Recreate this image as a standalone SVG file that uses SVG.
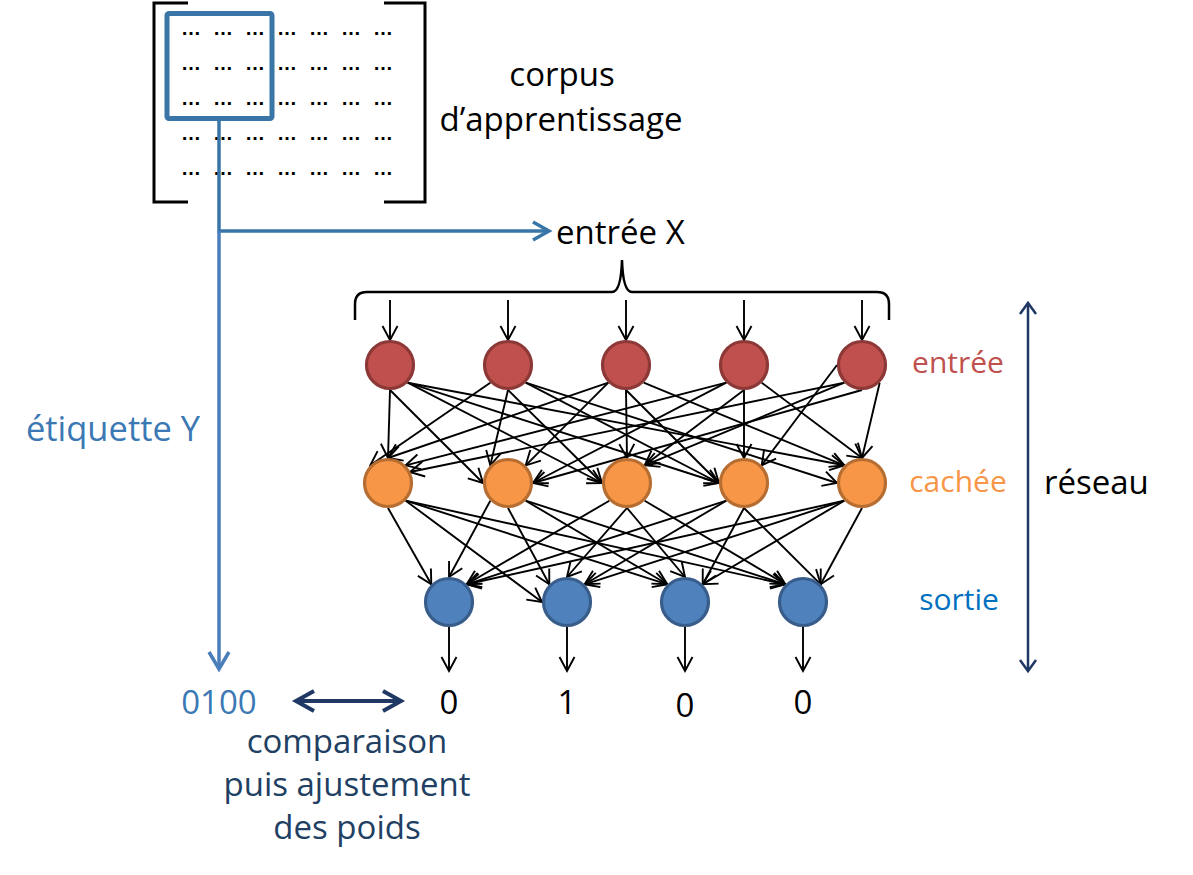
<svg xmlns="http://www.w3.org/2000/svg" width="1193" height="875" viewBox="0 0 1193 875">
<style>
.t{font-family:"Open Sans","Liberation Sans",sans-serif;font-size:33px}
.lay{font-size:30px}
.dots{font-family:"Liberation Sans",sans-serif;font-size:20px;font-weight:bold;fill:#000;text-anchor:middle}
.c{fill:none;stroke:#000;stroke-width:1.9;marker-end:url(#ah)}
.in{fill:#c0504d;stroke:#8c3836;stroke-width:3.2}
.hd{fill:#f79646;stroke:#b66d31;stroke-width:3.2}
.out{fill:#4f81bd;stroke:#385d8a;stroke-width:3.2}
</style>
<defs>
<marker id="ah" viewBox="-17 -10 19 20" refX="0" refY="0" markerWidth="19" markerHeight="20" markerUnits="userSpaceOnUse" orient="auto" overflow="visible"><path d="M-14,-7.5 L0,0 L-14,7.5" fill="none" stroke="#000" stroke-width="1.9"/></marker>
<marker id="bh1" viewBox="-20 -12 22 24" refX="0" refY="0" markerWidth="22" markerHeight="24" markerUnits="userSpaceOnUse" orient="auto" overflow="visible"><path d="M-16,-9 L0,0 L-16,9" fill="none" stroke="#3a75a8" stroke-width="3.5"/></marker>
<marker id="bh2" viewBox="-20 -12 22 24" refX="0" refY="0" markerWidth="22" markerHeight="24" markerUnits="userSpaceOnUse" orient="auto" overflow="visible"><path d="M-17,-10 L0,0 L-17,10" fill="none" stroke="#4a7ebb" stroke-width="3.5"/></marker>
<marker id="nh" viewBox="-22 -13 24 26" refX="0" refY="0" markerWidth="24" markerHeight="26" markerUnits="userSpaceOnUse" orient="auto-start-reverse" overflow="visible"><path d="M-18,-10 L0,0 L-18,10" fill="none" stroke="#1f3864" stroke-width="4"/></marker>
<marker id="nh2" viewBox="-14 -10 16 20" refX="0" refY="0" markerWidth="16" markerHeight="20" markerUnits="userSpaceOnUse" orient="auto-start-reverse" overflow="visible"><path d="M-11,-8 L0,0 L-11,8" fill="none" stroke="#1f3864" stroke-width="2.5"/></marker>
</defs>
<rect width="1193" height="875" fill="#fff"/>

<g id="corpus">
<path d="M188,3 L154,3 L154,202 L188,202" fill="none" stroke="#000" stroke-width="3"/>
<path d="M384,3 L425,3 L425,202 L384,202" fill="none" stroke="#000" stroke-width="3"/>
<g class="dots">
<text x="191" y="35">…</text><text x="223" y="35">…</text><text x="255" y="35">…</text><text x="287" y="35">…</text><text x="319" y="35">…</text><text x="351" y="35">…</text><text x="383" y="35">…</text>
<text x="191" y="70">…</text><text x="223" y="70">…</text><text x="255" y="70">…</text><text x="287" y="70">…</text><text x="319" y="70">…</text><text x="351" y="70">…</text><text x="383" y="70">…</text>
<text x="191" y="105">…</text><text x="223" y="105">…</text><text x="255" y="105">…</text><text x="287" y="105">…</text><text x="319" y="105">…</text><text x="351" y="105">…</text><text x="383" y="105">…</text>
<text x="191" y="140">…</text><text x="223" y="140">…</text><text x="255" y="140">…</text><text x="287" y="140">…</text><text x="319" y="140">…</text><text x="351" y="140">…</text><text x="383" y="140">…</text>
<text x="191" y="175">…</text><text x="223" y="175">…</text><text x="255" y="175">…</text><text x="287" y="175">…</text><text x="319" y="175">…</text><text x="351" y="175">…</text><text x="383" y="175">…</text>
</g>
<rect x="167" y="13.5" width="105" height="105" rx="2" fill="none" stroke="#3a75a8" stroke-width="5"/>
<text class="t" x="562" y="86" text-anchor="middle">corpus</text>
<text class="t" x="561" y="131" text-anchor="middle">d’apprentissage</text>
</g>

<g id="labels">
<text class="t" x="556" y="244">entrée X</text>
<text class="t" x="113" y="441" text-anchor="middle" fill="#3b78b4" style="font-size:34.5px">étiquette Y</text>
<text class="t lay" x="958" y="373" text-anchor="middle" fill="#c0504d">entrée</text>
<text class="t lay" x="958" y="492" text-anchor="middle" fill="#f79646">cachée</text>
<text class="t lay" x="959" y="610" text-anchor="middle" fill="#0070c0">sortie</text>
<text class="t" x="1044" y="494">réseau</text>
<text class="t" x="219" y="714" text-anchor="middle" fill="#3b78b4">0100</text>
<text class="t" x="449" y="714" text-anchor="middle">0</text>
<text class="t" x="567" y="714" text-anchor="middle">1</text>
<text class="t" x="685" y="717" text-anchor="middle">0</text>
<text class="t" x="803" y="714" text-anchor="middle">0</text>
<g fill="#213f63" text-anchor="middle">
<text class="t" x="347" y="753">comparaison</text>
<text class="t" x="347" y="796">puis ajustement</text>
<text class="t" x="347" y="839">des poids</text>
</g>
</g>

<g id="brace">
<path d="M355,320 L355,304 Q355,292 367,292 L612,292 Q621,292 622,260 Q623,292 632,292 L877,292 Q889,292 889,304 L889,320" fill="none" stroke="#000" stroke-width="2.5"/>
</g>

<g id="connectors">
<path d="M219,119 L219,231 L549,231" fill="none" stroke="#3a75a8" stroke-width="3.5" marker-end="url(#bh1)"/>
<path d="M219,231 L219,669" fill="none" stroke="#4a7ebb" stroke-width="3.5" marker-end="url(#bh2)"/>
<path d="M296,701 L401,701" fill="none" stroke="#1f3864" stroke-width="4" marker-start="url(#nh)" marker-end="url(#nh)"/>
<path d="M1028,303 L1028,671" fill="none" stroke="#1f3864" stroke-width="2.5" marker-start="url(#nh2)" marker-end="url(#nh2)"/>
<!-- inputs -->
<path class="c" d="M390,300 L390,340"/>
<path class="c" d="M508,300 L508,340"/>
<path class="c" d="M626,300 L626,340"/>
<path class="c" d="M744,300 L744,340"/>
<path class="c" d="M862,300 L862,340"/>
<!-- outputs -->
<path class="c" d="M449,627 L449,671"/>
<path class="c" d="M567,627 L567,671"/>
<path class="c" d="M685,627 L685,671"/>
<path class="c" d="M803,627 L803,671"/>
<!-- input to hidden -->
<path class="c" d="M390,390 L388,458"/>
<path class="c" d="M390,390 L483,483"/>
<path class="c" d="M407.7,382.7 L602,483"/>
<path class="c" d="M407.7,382.7 L719,483"/>
<path class="c" d="M407.7,382.7 L844.3,465.3"/>
<path class="c" d="M490.3,382.7 L370.3,465.3"/>
<path class="c" d="M508,390 L490.3,465.3"/>
<path class="c" d="M508,390 L602,483"/>
<path class="c" d="M525.7,382.7 L719,483"/>
<path class="c" d="M525.7,382.7 L837,483"/>
<path class="c" d="M608.3,382.7 L388,458"/>
<path class="c" d="M608.3,382.7 L525.7,465.3"/>
<path class="c" d="M626,390 L627,458"/>
<path class="c" d="M626,390 L719,483"/>
<path class="c" d="M643.7,382.7 L844.3,465.3"/>
<path class="c" d="M726.3,382.7 L405.7,465.3"/>
<path class="c" d="M726.3,382.7 L533,483"/>
<path class="c" d="M744,390 L644.7,465.3"/>
<path class="c" d="M744,390 L744,458"/>
<path class="c" d="M761.7,382.7 L862,458"/>
<path class="c" d="M844.3,382.7 L410,472"/>
<path class="c" d="M862,390 L533,483"/>
<path class="c" d="M844.3,382.7 L644.7,465.3"/>
<path class="c" d="M837,365 L761.7,465.3"/>
<path class="c" d="M879.7,382.7 L862,458"/>
<!-- hidden to output -->
<path class="c" d="M388,508 L431.3,584.3"/>
<path class="c" d="M405.7,500.7 L542,602"/>
<path class="c" d="M405.7,500.7 L667.3,584.3"/>
<path class="c" d="M405.7,500.7 L785.3,584.3"/>
<path class="c" d="M490.3,500.7 L449,577"/>
<path class="c" d="M508,508 L549.3,584.3"/>
<path class="c" d="M525.7,500.7 L667.3,584.3"/>
<path class="c" d="M525.7,500.7 L785.3,584.3"/>
<path class="c" d="M609.3,500.7 L466.7,584.3"/>
<path class="c" d="M627,508 L567,577"/>
<path class="c" d="M627,508 L685,577"/>
<path class="c" d="M644.7,500.7 L785.3,584.3"/>
<path class="c" d="M726.3,500.7 L466.7,584.3"/>
<path class="c" d="M726.3,500.7 L584.7,584.3"/>
<path class="c" d="M744,508 L702.7,584.3"/>
<path class="c" d="M744,508 L820.7,584.3"/>
<path class="c" d="M844.3,500.7 L466.7,584.3"/>
<path class="c" d="M844.3,500.7 L584.7,584.3"/>
<path class="c" d="M844.3,500.7 L702.7,584.3"/>
<path class="c" d="M862,508 L820.7,584.3"/>
</g>

<g id="input-layer">
<circle id="in1" class="in" cx="390" cy="365" r="23.5"/>
<circle id="in2" class="in" cx="508" cy="365" r="23.5"/>
<circle id="in3" class="in" cx="626" cy="365" r="23.5"/>
<circle id="in4" class="in" cx="744" cy="365" r="23.5"/>
<circle id="in5" class="in" cx="862" cy="365" r="23.5"/>
</g>
<g id="hidden-layer">
<circle id="h1" class="hd" cx="388" cy="483" r="23.5"/>
<circle id="h2" class="hd" cx="508" cy="483" r="23.5"/>
<circle id="h3" class="hd" cx="627" cy="483" r="23.5"/>
<circle id="h4" class="hd" cx="744" cy="483" r="23.5"/>
<circle id="h5" class="hd" cx="862" cy="483" r="23.5"/>
</g>
<g id="output-layer">
<circle id="o1" class="out" cx="449" cy="602" r="23.5"/>
<circle id="o2" class="out" cx="567" cy="602" r="23.5"/>
<circle id="o3" class="out" cx="685" cy="602" r="23.5"/>
<circle id="o4" class="out" cx="803" cy="602" r="23.5"/>
</g>
</svg>
